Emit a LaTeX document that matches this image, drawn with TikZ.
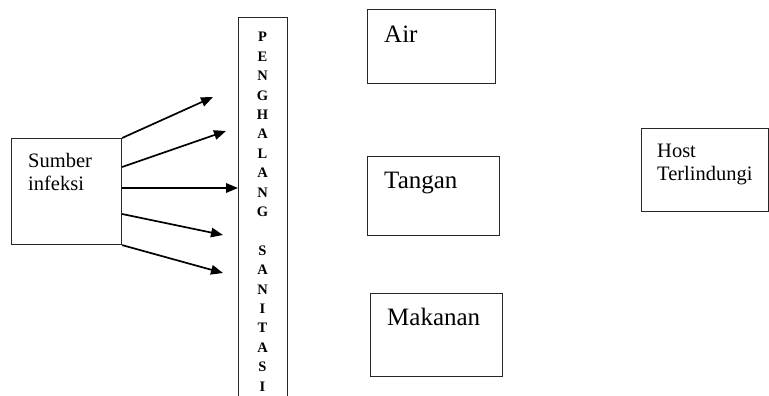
\documentclass[tikz,border=0pt]{standalone}
\usepackage{fontspec}
\setmainfont{Liberation Serif}
\usetikzlibrary{arrows.meta}
\begin{document}
\begin{tikzpicture}[x=1pt,y=-1pt,
  box/.style={draw=black!85,line width=1.1pt,rectangle,inner sep=0pt,anchor=north west},
  smalltxt/.style={anchor=base west,inner sep=0pt,align=left,font=\fontsize{20.5}{23}\selectfont},
  bigtxt/.style={anchor=base west,inner sep=0pt,font=\fontsize{25}{30}\selectfont},
  lettr/.style={anchor=base,inner sep=0pt,font=\fontsize{14.5}{16}\selectfont\bfseries},
  arr/.style={line width=1.7pt,-{Triangle[length=12pt,width=9.5pt]}}]
\useasboundingbox (0,0) rectangle (769,396);
% boxes
\node[box,minimum width=110pt,minimum height=106pt] (src) at (11,138) {};
\node[box,minimum width=49pt,minimum height=400pt] (bar) at (238,17) {};
\node[box,minimum width=128pt,minimum height=74pt] (air) at (367,9) {};
\node[box,minimum width=132pt,minimum height=79pt] (tangan) at (367,156) {};
\node[box,minimum width=132pt,minimum height=83pt] (makanan) at (370,293) {};
\node[box,minimum width=127pt,minimum height=83pt] (host) at (641,128) {};
% texts (base anchor = last line)
\node[smalltxt] (srct) at (28,190) {Sumber\\infeksi};
\node[smalltxt] (hostt) at (657,180) {Host\\Terlindungi};
\node[bigtxt] (airt) at (384,43) {Air};
\node[bigtxt] (tangant) at (384,188) {Tangan};
\node[bigtxt] (makanant) at (387,325) {Makanan};
% vertical letters
\foreach \l [count=\i from 0] in {P,E,N,G,H,A,L,A,N,G,{},S,A,N,I,T,A,S,I}{
  \node[lettr] (L\i) at (262.5,{41.8+\i*19.4}) {\l};
}
% arrow end points
\coordinate (e1) at (213,97);
\coordinate (e2) at (226,131);
\coordinate (e4) at (223,235);
\coordinate (e5) at (223,273);
\draw[arr] (src.north east) -- (e1);
\draw[arr] ([yshift=-29pt]src.north east) -- (e2);
\draw[arr] ([yshift=-50pt]src.north east) -- ([yshift=-50pt]src.north east -| bar.west);
\draw[arr] ([yshift=-76pt]src.north east) -- (e4);
\draw[arr] (src.south east) -- (e5);
\end{tikzpicture}
\end{document}
